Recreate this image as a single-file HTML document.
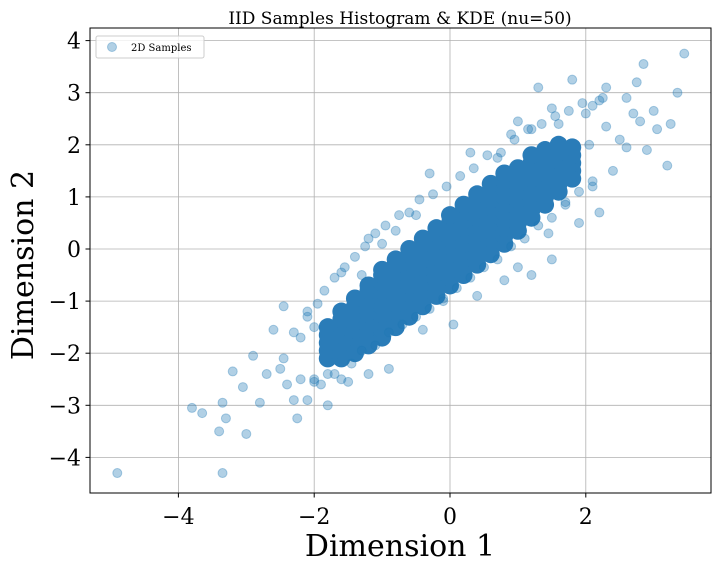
<!DOCTYPE html>
<html><head><meta charset="utf-8"><style>
body{margin:0;background:#fff}
svg text{font-family:"DejaVu Serif","Liberation Serif",serif}
</style></head><body>
<svg id="chart" width="720" height="570" xmlns="http://www.w3.org/2000/svg">
<rect width="720" height="570" fill="#fff"/>
<text x="400" y="24" font-size="17" text-anchor="middle">IID Samples Histogram &amp; KDE (nu=50)</text>
<g id="grid"></g>
<g id="pts"></g>
<rect x="90" y="28" width="621" height="465" fill="none" stroke="#000" stroke-width="1"/>
<g id="ticks"></g>
<text x="400" y="556" font-size="30" text-anchor="middle">Dimension 1</text>
<text transform="translate(33,265) rotate(-90)" font-size="30" text-anchor="middle">Dimension 2</text>
<g>
<rect x="96" y="36" width="108" height="22" fill="#fff" fill-opacity="0.8" stroke="#ccc" rx="2"/>
<circle cx="112" cy="47" r="4.5" fill="#1f77b4" fill-opacity="0.35" stroke="#1f77b4" stroke-opacity="0.35"/>
<text x="131" y="51" font-size="10">2D Samples</text>
</g>
</svg>
<script>
const xTicks=[-4,-2,0,2];
const yTicks=[-4,-3,-2,-1,0,1,2,3,4];
const outX=[-4.9,-3.35,-3.8,-3.65,-3.4,-3.3,-3.35,-3.2,-3.0,-3.05,-2.9,-2.8,-2.7,-2.6,-2.45,-2.4,-2.3,-2.25,-2.1,-2.0,-2.2,-2.45,-2.5,-1.9,-1.7,-1.8,-2.1,-1.6,-1.2,-0.9,-0.4,0.05,0.8,1.0,1.2,1.5,1.45,1.7,2.0,2.2,2.3,2.6,2.85,2.75,3.0,3.25,3.35,3.45,3.2,2.8,2.5,2.4,2.1,1.8,1.5,1.3,1.0,0.7,0.3,-0.3,-0.5,-0.8,-1.3,-1.0,2.6,2.9,2.2,1.9,2.7,3.05,-0.1,0.4,-1.5,-2.0,-1.2,0.9,1.2,1.6,2.05,2.3,
 -2.3,-2.1,-1.95,-1.85,-1.7,-1.55,-1.4,-1.25,-1.1,-0.95,-0.75,-0.6,-0.45,-0.25,-0.05,0.15,0.35,0.55,0.75,0.95,1.15,1.35,1.55,1.75,1.95,2.1,2.25,
 -2.2,-2.0,-1.8,-1.6,-1.45,-1.3,-1.1,-0.9,-0.7,-0.5,-0.3,-0.1,0.1,0.3,0.5,0.7,0.9,1.1,1.3,1.5,1.7,1.9,2.1];
const outY=[-4.3,-4.3,-3.05,-3.15,-3.5,-3.25,-2.95,-2.35,-3.55,-2.65,-2.05,-2.95,-2.4,-1.55,-2.1,-2.6,-2.9,-3.25,-2.9,-2.5,-1.7,-1.1,-2.3,-2.6,-2.4,-3.0,-1.2,-0.45,-2.4,-2.3,-1.55,-1.45,-0.6,-0.35,-0.5,-0.2,0.3,0.9,2.6,2.85,3.1,2.9,3.55,3.2,2.65,2.4,3.0,3.75,1.6,2.45,2.1,1.5,1.2,3.25,2.7,3.1,2.45,1.75,1.85,1.45,0.65,0.35,-0.5,0.1,1.95,1.9,0.7,0.5,2.6,2.3,-1.0,-0.9,-2.55,-1.5,0.2,2.2,2.3,2.4,2.0,2.35,
 -1.6,-1.3,-1.05,-0.8,-0.55,-0.35,-0.15,0.05,0.3,0.45,0.65,0.7,0.95,1.05,1.2,1.4,1.55,1.8,1.85,2.1,2.3,2.4,2.55,2.65,2.8,2.75,2.9,
 -2.5,-2.55,-2.4,-2.5,-2.2,-1.95,-1.85,-1.6,-1.45,-1.3,-1.15,-0.95,-0.75,-0.55,-0.35,-0.2,0.05,0.2,0.45,0.6,0.85,1.1,1.3];
const coreX=[-1.8,-1.6,-1.4,-1.2,-1.0,-0.8,-0.6,-0.4,-0.2,0,0.2,0.4,0.6,0.8,1.0,1.2,1.4,1.6,1.8];
const coreY=[
[-2.1,-1.95,-1.8,-1.65,-1.5],
[-2.1,-1.95,-1.8,-1.65,-1.5,-1.35,-1.2],
[-2.0,-1.85,-1.7,-1.55,-1.4,-1.25,-1.1,-0.95],
[-1.85,-1.7,-1.55,-1.4,-1.25,-1.1,-0.95,-0.8,-0.7],
[-1.7,-1.55,-1.4,-1.25,-1.1,-0.95,-0.8,-0.65,-0.5,-0.4],
[-1.5,-1.35,-1.2,-1.05,-0.9,-0.75,-0.6,-0.45,-0.3,-0.2],
[-1.3,-1.15,-1.0,-0.85,-0.7,-0.55,-0.4,-0.25,-0.1,0.0],
[-1.1,-0.95,-0.8,-0.65,-0.5,-0.35,-0.2,-0.05,0.1,0.2],
[-0.9,-0.75,-0.6,-0.45,-0.3,-0.15,0.0,0.15,0.3,0.4],
[-0.7,-0.55,-0.4,-0.25,-0.1,0.05,0.2,0.35,0.5,0.65],
[-0.5,-0.35,-0.2,-0.05,0.1,0.25,0.4,0.55,0.7,0.85],
[-0.3,-0.15,0.0,0.15,0.3,0.45,0.6,0.75,0.9,1.05],
[-0.1,0.05,0.2,0.35,0.5,0.65,0.8,0.95,1.1,1.25],
[0.1,0.25,0.4,0.55,0.7,0.85,1.0,1.15,1.3,1.45],
[0.35,0.5,0.65,0.8,0.95,1.1,1.25,1.4,1.55],
[0.6,0.75,0.9,1.05,1.2,1.35,1.5,1.65,1.8],
[0.85,1.0,1.15,1.3,1.45,1.6,1.75,1.9],
[1.1,1.25,1.4,1.55,1.7,1.85,2.0],
[1.35,1.5,1.65,1.8,1.95]];
const NS="http://www.w3.org/2000/svg";
const X=v=>450+v*67.9, Y=v=>249-v*52.1;
const grid=document.getElementById('grid'),ticks=document.getElementById('ticks'),pts=document.getElementById('pts');
function mk(p,tag,a){const e=document.createElementNS(NS,tag);for(const k in a)e.setAttribute(k,a[k]);p.appendChild(e);return e;}
xTicks.forEach(t=>{
 const l=mk(grid,'line',{x1:X(t),x2:X(t),y1:28,y2:493,stroke:'#b0b0b0','stroke-width':0.8});
 
 
 mk(ticks,'line',{x1:X(t),x2:X(t),y1:493,y2:497.5,stroke:'#000'});
 const tx=mk(ticks,'text',{x:X(t),y:524,'font-size':22,'text-anchor':'middle'});
 tx.textContent=(t<0?'\u2212'+(-t):t);
 
 
});
yTicks.forEach(t=>{
 const l=mk(grid,'line',{x1:90,x2:711,y1:Y(t),y2:Y(t),stroke:'#b0b0b0','stroke-width':0.8});
 
 
 mk(ticks,'line',{x1:85.5,x2:90,y1:Y(t),y2:Y(t),stroke:'#000'});
 const tx=mk(ticks,'text',{x:81,y:Y(t)+8,'font-size':22,'text-anchor':'end'});
 tx.textContent=(t<0?'\u2212'+(-t):t);
 
 
});
coreX.forEach((x,i)=>coreY[i].forEach(y=>{
 const c=mk(pts,'circle',{cx:X(x),cy:Y(y),r:9,fill:'#2a7cb8'});
 
 
}));
outX.forEach((x,i)=>{
 const c=mk(pts,'circle',{cx:X(x),cy:Y(outY[i]),r:4.5,fill:'#1f77b4','fill-opacity':0.35,stroke:'#1f77b4','stroke-opacity':0.35});
 
 
});
</script>
</body></html>
